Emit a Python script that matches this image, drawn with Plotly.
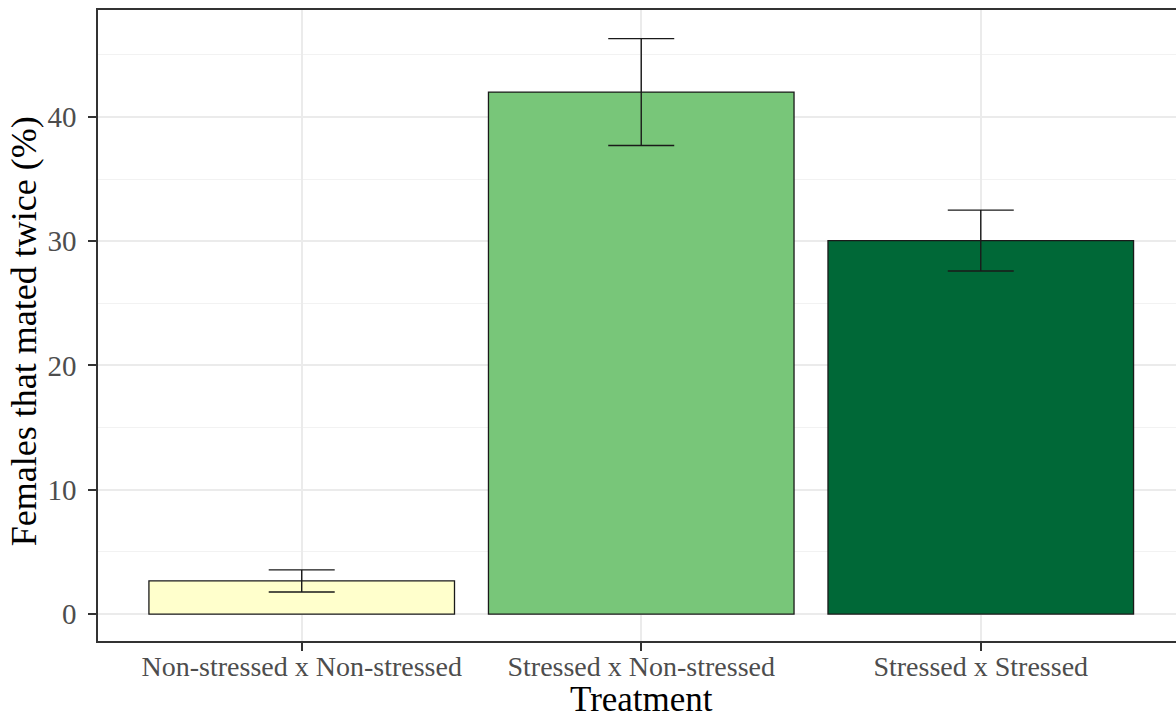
import plotly.graph_objects as go

# Mating data by treatment
treatments = ["Non-stressed x Non-stressed", "Stressed x Non-stressed", "Stressed x Stressed"]
mated_twice_pct = [2.66, 42.0, 30.05]
se_pct = [0.89, 4.3, 2.45]
bar_colors = ["#FFFFCC", "#78C679", "#006837"]

serif = "Liberation Serif, Times New Roman, serif"

fig = go.Figure()
fig.add_trace(go.Bar(
    x=treatments,
    y=mated_twice_pct,
    width=0.9,
    marker=dict(color=bar_colors, line=dict(color="#1a1a1a", width=1.3)),
    error_y=dict(type="data", array=se_pct, visible=True,
                 color="#1a1a1a", thickness=1.4, width=33),
    showlegend=False,
))

fig.update_layout(
    width=1176, height=720,
    margin=dict(l=98, r=0, t=10, b=79),
    paper_bgcolor="white", plot_bgcolor="white",
    font=dict(family=serif, color="black"),
    bargap=0.1,
)

fig.update_xaxes(
    type="category",
    range=[-0.6, 2.575],
    showline=True, linecolor="#333333", linewidth=1.5, mirror=True,
    showgrid=True, gridcolor="#EBEBEB", gridwidth=2,
    ticks="outside", ticklen=8, tickwidth=2, tickcolor="#333333",
    ticklabelstandoff=-8,
    tickfont=dict(family=serif, size=28, color="#4D4D4D"),
)

fig.update_yaxes(
    range=[-2.17, 48.6],
    tickvals=[0, 10, 20, 30, 40],
    showline=True, linecolor="#333333", linewidth=1.5, mirror=False,
    showgrid=True, gridcolor="#EBEBEB", gridwidth=2,
    minor=dict(dtick=5, tick0=0, showgrid=True, gridcolor="#F2F2F2", gridwidth=1),
    zeroline=False,
    ticks="outside", ticklen=8, tickwidth=2, tickcolor="#333333",
    ticklabelstandoff=6,
    tickfont=dict(family=serif, size=29, color="#4D4D4D"),
)

# Axis titles
fig.add_annotation(
    text="Treatment", xref="paper", yref="paper", x=(641 - 98) / 1078, y=-0.093,
    xanchor="center", yanchor="middle", showarrow=False,
    font=dict(family=serif, size=35, color="black"),
)
fig.add_annotation(
    text="Females that mated twice (%)", xref="paper", yref="paper",
    x=(24 - 98) / 1078, y=0.491, textangle=-90,
    xanchor="center", yanchor="middle", showarrow=False,
    font=dict(family=serif, size=36, color="black"),
)

fig.write_html("out.html")
